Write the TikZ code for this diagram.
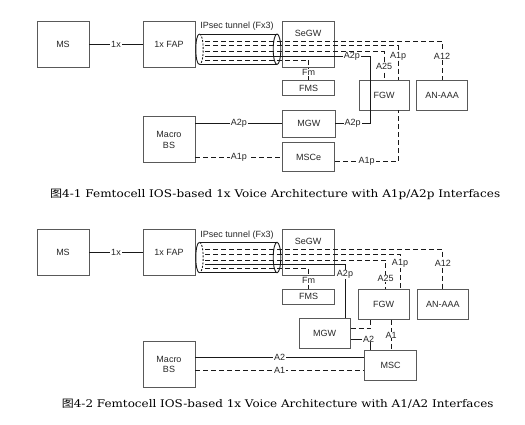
\documentclass[tikz,border=0pt]{standalone}
\usepackage{fontspec}
\usepackage{graphicx}
\setmainfont{Liberation Sans}
\newfontfamily\capfont{DejaVu Serif}
\newfontfamily\cjk{Noto Sans CJK SC}
\begin{document}
\begin{tikzpicture}[x=1pt,y=-1pt,
  box/.style={draw=black!65, line width=0.9pt, inner sep=0pt, align=center,
    font=\fontsize{9}{10.5}\selectfont, text=black!85},
  conn/.style={line width=1pt, draw=black!90},
  dl/.style={conn, dash pattern=on 5pt off 3pt},
  lbl/.style={fill=white, inner xsep=1pt, inner ysep=0.3pt,
    font=\fontsize{9}{10}\selectfont, text=black!85},
  cyl/.style={line width=0.9pt, draw=black!90},
  captxt/.style={anchor=base west, inner sep=0pt, text=black}]
\useasboundingbox (0,0) rectangle (525,424);

% ================= Diagram 1 =================
\node[box, minimum width=52pt, minimum height=46pt] (ms) at (63,44) {MS};
\node[box, minimum width=52pt, minimum height=46pt] (fap) at (169,44) {1x FAP};
\node[box, minimum width=52pt, minimum height=46pt,
  label={[anchor=north, yshift=-6pt, font=\fontsize{9}{10}\selectfont, text=black!85]north:SeGW}] (segw) at (308,44) {};
\node[box, minimum width=52pt, minimum height=15pt] (fms) at (308.7,88.2) {FMS};
\node[box, minimum width=50.3pt, minimum height=29.3pt] (fgw) at (384.2,95.3) {FGW};
\node[box, minimum width=50.6pt, minimum height=29.3pt] (anaaa) at (442,95.3) {AN-AAA};
\node[box, minimum width=52pt, minimum height=46pt] (macro) at (169,139.7) {Macro\\BS};
\node[box, minimum width=52.3pt, minimum height=27.3pt] (mgw) at (308.8,123.7) {MGW};
\node[box, minimum width=52pt, minimum height=29.4pt] (msce) at (308.7,157) {MSCe};

\draw[conn] (ms) -- node[lbl]{1x} (fap);

% tunnel
\draw[cyl] (199.5,34) -- (277,34);
\draw[cyl] (199.5,64.5) -- (277,64.5);
\draw[cyl] (277,49.25) ellipse [x radius=3.8, y radius=15.25];
\draw[cyl] (199.5,34) .. controls (194.6,34) and (194.6,64.5) .. (199.5,64.5);
\draw[cyl, dash pattern=on 2pt off 1.5pt] (199.5,34) .. controls (204.4,34) and (204.4,64.5) .. (199.5,64.5);
\node[font=\fontsize{9}{10}\selectfont, text=black!85] (tun) at (237,26.5) {IPsec tunnel (Fx3)};

\coordinate (t1) at (205,41);
\coordinate (t2) at (205,45.7);
\coordinate (t3) at (205,51.7);
\coordinate (t4) at (205,56.5);
\coordinate (t5) at (205,60);
\coordinate (a2pc) at (370,123.7);

\draw[conn] (t4) -| node[lbl,pos=0.445]{A2p} (a2pc) -- node[lbl]{A2p} (mgw.east);
\draw[dl] (t1) -| node[lbl,pos=0.69]{A12} (anaaa.north);
\draw[dl] (t2) -| node[lbl,pos=0.65]{A1p} ([xshift=14pt]fgw.north);
\draw[dl] (t3) -| node[lbl,pos=0.76]{A25} (fgw.north);
\draw[dl] (t5) -| node[lbl,pos=0.81]{Fm} (fms.north);

\draw[conn] (macro.east |- mgw.west) -- node[lbl]{A2p} (mgw.west);
\draw[dl] (macro.east |- msce.west) -- node[lbl]{A1p} (msce.west);
\draw[dl] ([yshift=-4.7pt]msce.east) -| node[lbl,pos=0.25]{A1p} ([xshift=14pt]fgw.south);

\node[captxt] (cap1) at (50,197.5) {\resizebox{450pt}{8.4pt}{\capfont{\cjk 图}4-1 Femtocell IOS-based 1x Voice Architecture with A1p/A2p Interfaces}};

% ================= Diagram 2 =================
\node[box, minimum width=52pt, minimum height=46pt] (ms2) at (63,252.3) {MS};
\node[box, minimum width=52pt, minimum height=46pt] (fap2) at (169,252.3) {1x FAP};
\node[box, minimum width=52pt, minimum height=46pt,
  label={[anchor=north, yshift=-6pt, font=\fontsize{9}{10}\selectfont, text=black!85]north:SeGW}] (segw2) at (308,252.3) {};
\node[box, minimum width=52pt, minimum height=15pt] (fms2) at (308.7,296.8) {FMS};
\node[box, minimum width=50.7pt, minimum height=30pt] (fgw2) at (383.7,304.3) {FGW};
\node[box, minimum width=51pt, minimum height=30pt] (anaaa2) at (442.8,304.3) {AN-AAA};
\node[box, minimum width=52pt, minimum height=46pt] (macro2) at (169,364.5) {Macro\\BS};
\node[box, minimum width=50.7pt, minimum height=30pt] (mgw2) at (324.7,333.3) {MGW};
\node[box, minimum width=52.4pt, minimum height=29.3pt] (msc2) at (390.5,365.3) {MSC};

\draw[conn] (ms2) -- node[lbl]{1x} (fap2);

\draw[cyl] (199.5,242.3) -- (277,242.3);
\draw[cyl] (199.5,272.8) -- (277,272.8);
\draw[cyl] (277,257.55) ellipse [x radius=3.8, y radius=15.25];
\draw[cyl] (199.5,242.3) .. controls (194.6,242.3) and (194.6,272.8) .. (199.5,272.8);
\draw[cyl, dash pattern=on 2pt off 1.5pt] (199.5,242.3) .. controls (204.4,242.3) and (204.4,272.8) .. (199.5,272.8);
\node[font=\fontsize{9}{10}\selectfont, text=black!85] (tun2) at (237,234.8) {IPsec tunnel (Fx3)};

\coordinate (u1) at (205,249.3);
\coordinate (u2) at (205,254);
\coordinate (u3) at (205,260);
\coordinate (u4) at (205,264.8);
\coordinate (u5) at (205,268.3);

\draw[conn] (u4) -| node[lbl,pos=0.59]{A2p} ([xshift=20.3pt]mgw2.north);
\draw[dl] (u1) -| node[lbl,pos=0.68]{A12} (anaaa2.north);
\draw[dl] (u2) -| node[lbl,pos=0.64]{A1p} ([xshift=16.3pt]fgw2.north);
\draw[dl] (u3) -| node[lbl,pos=0.82]{A25} ([xshift=2pt]fgw2.north);
\draw[dl] (u5) -| node[lbl,pos=0.8]{Fm} (fms2.north);

\draw[dl] ([yshift=5pt]mgw2.east) -| ([xshift=-13pt]fgw2.south);
\draw[conn] ([yshift=-5.7pt]mgw2.east) -| node[lbl,pos=0.5,xshift=-2pt]{A2} ([xshift=-19.8pt]msc2.north);
\draw[dl] ([xshift=7.3pt]fgw2.south) -- node[lbl]{A1} ([xshift=7.3pt]fgw2.south |- msc2.north);

\draw[conn] ([yshift=6.8pt]macro2.east) -- node[lbl]{A2} ([yshift=6.8pt]macro2.east -| msc2.west);
\draw[dl] ([yshift=-6.2pt]macro2.east) -- node[lbl]{A1} ([yshift=-6.2pt]macro2.east -| msc2.west);

\node[captxt] (cap2) at (61.7,407.5) {\resizebox{431.6pt}{8.4pt}{\capfont{\cjk 图}4-2 Femtocell IOS-based 1x Voice Architecture with A1/A2 Interfaces}};
\end{tikzpicture}
\end{document}
